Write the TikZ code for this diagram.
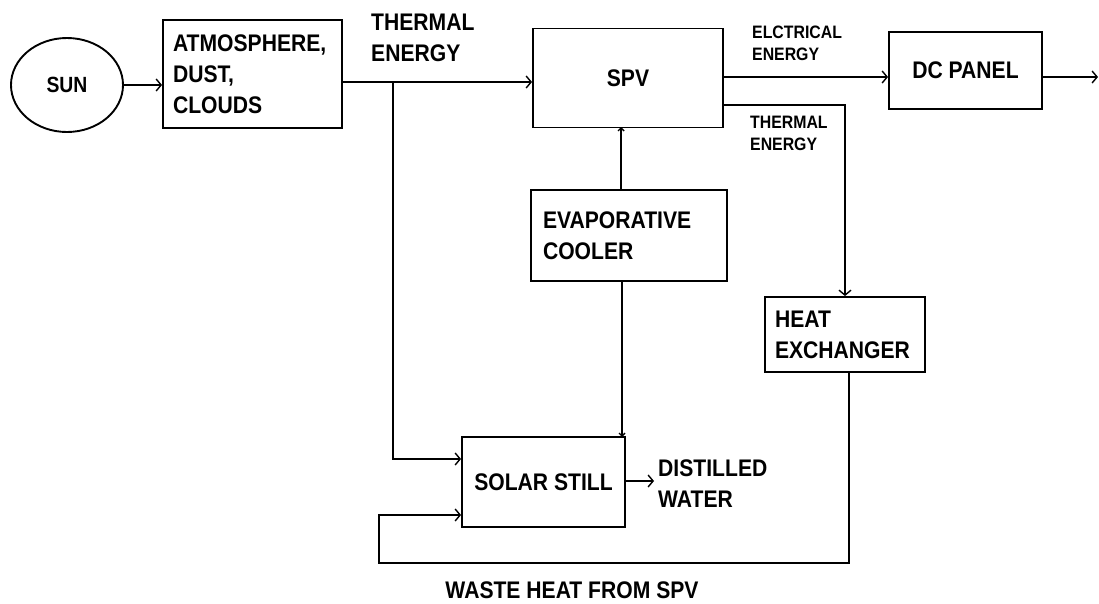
\documentclass[tikz,border=0pt]{standalone}
\usepackage{fontspec}
\setmainfont{Liberation Sans}[FakeStretch=0.88]
\usetikzlibrary{arrows.meta,shapes.geometric}
\tikzset{
  box/.style={draw, line width=1.9pt, rectangle, inner sep=0pt},
  big/.style={font=\fontsize{24}{31}\selectfont\bfseries},
  small/.style={font=\fontsize{18}{22}\selectfont\bfseries},
  conn/.style={line width=1.8pt},
  arr/.style={conn, -{Straight Barb[length=5pt,width=12pt,line width=1.4pt]}},
  tiny/.style={conn, -{Straight Barb[length=3pt,width=6pt,line width=1.4pt]}},
}
\begin{document}
\begin{tikzpicture}[x=1pt,y=-1pt]
\useasboundingbox (0,0) rectangle (1099,603);
% nodes
\node[draw, line width=1.9pt, ellipse, minimum width=112pt, minimum height=94pt, inner sep=0pt, big, font=\fontsize{22}{26}\selectfont\bfseries] (sun) at (67,85) {SUN};
\node[box, big, minimum width=179pt, minimum height=108pt, text width=159pt, align=left] (atm) at (252.5,74) {ATMOSPHERE,\\DUST,\\CLOUDS};
\node[box, big, minimum width=190pt, minimum height=99pt] (spv) at (628,78) {SPV};
\node[box, big, minimum width=153pt, minimum height=77pt] (dc) at (965.5,70.5) {DC PANEL};
\node[box, big, minimum width=196pt, minimum height=91pt, text width=172pt, align=left] (cool) at (629,235.5) {EVAPORATIVE\\COOLER};
\node[box, big, minimum width=160pt, minimum height=75pt, text width=140pt, align=left] (hx) at (845,334.5) {HEAT\\EXCHANGER};
\node[box, big, minimum width=163pt, minimum height=90pt] (still) at (543.5,482) {SOLAR STILL};
% labels
\node[big, anchor=west, align=left, inner sep=0pt] (lth) at (371,38) {THERMAL\\ENERGY};
\node[small, anchor=west, align=left, inner sep=0pt] (lel) at (752,43) {ELCTRICAL\\ENERGY};
\node[small, anchor=west, align=left, inner sep=0pt] (lth2) at (750,133) {THERMAL\\ENERGY};
\node[big, anchor=west, align=left, inner sep=0pt] (ldw) at (658,484) {DISTILLED\\WATER};
\node[big, inner sep=0pt] (lwh) at (572,590) {WASTE HEAT FROM SPV};
% coordinates
\coordinate (j) at (393,82);
\coordinate (out) at (1098,77);
\coordinate (t1) at (723,105);
\coordinate (t2) at (845,105);
\coordinate (dw) at (654,481);
\coordinate (w1) at (849,563);
\coordinate (w2) at (379,563);
\coordinate (w3) at (379,515);
% connectors
\draw[arr] (sun.east) -- (sun.east -| atm.west);
\draw[arr] (atm.east |- j) -- (j) -- (j -| spv.west);
\draw[arr] (j) -- (j |- 0,459) -- (still.west |- 0,459);
\draw[arr] (spv.east |- out) -- (dc.west |- out);
\draw[arr] (dc.east |- out) -- (out);
\draw[arr] (t1) -- (t2) -- (t2 |- hx.north);
\draw[tiny] (621,190) -- (621,127);
\draw[tiny] (cool.south -| 622,0) -- (622,437);
\draw[arr] (still.east |- dw) -- (dw);
\draw[arr] (849,372) -- (w1) -- (w2) -- (w3) -- (still.west |- w3);
\end{tikzpicture}
\end{document}
